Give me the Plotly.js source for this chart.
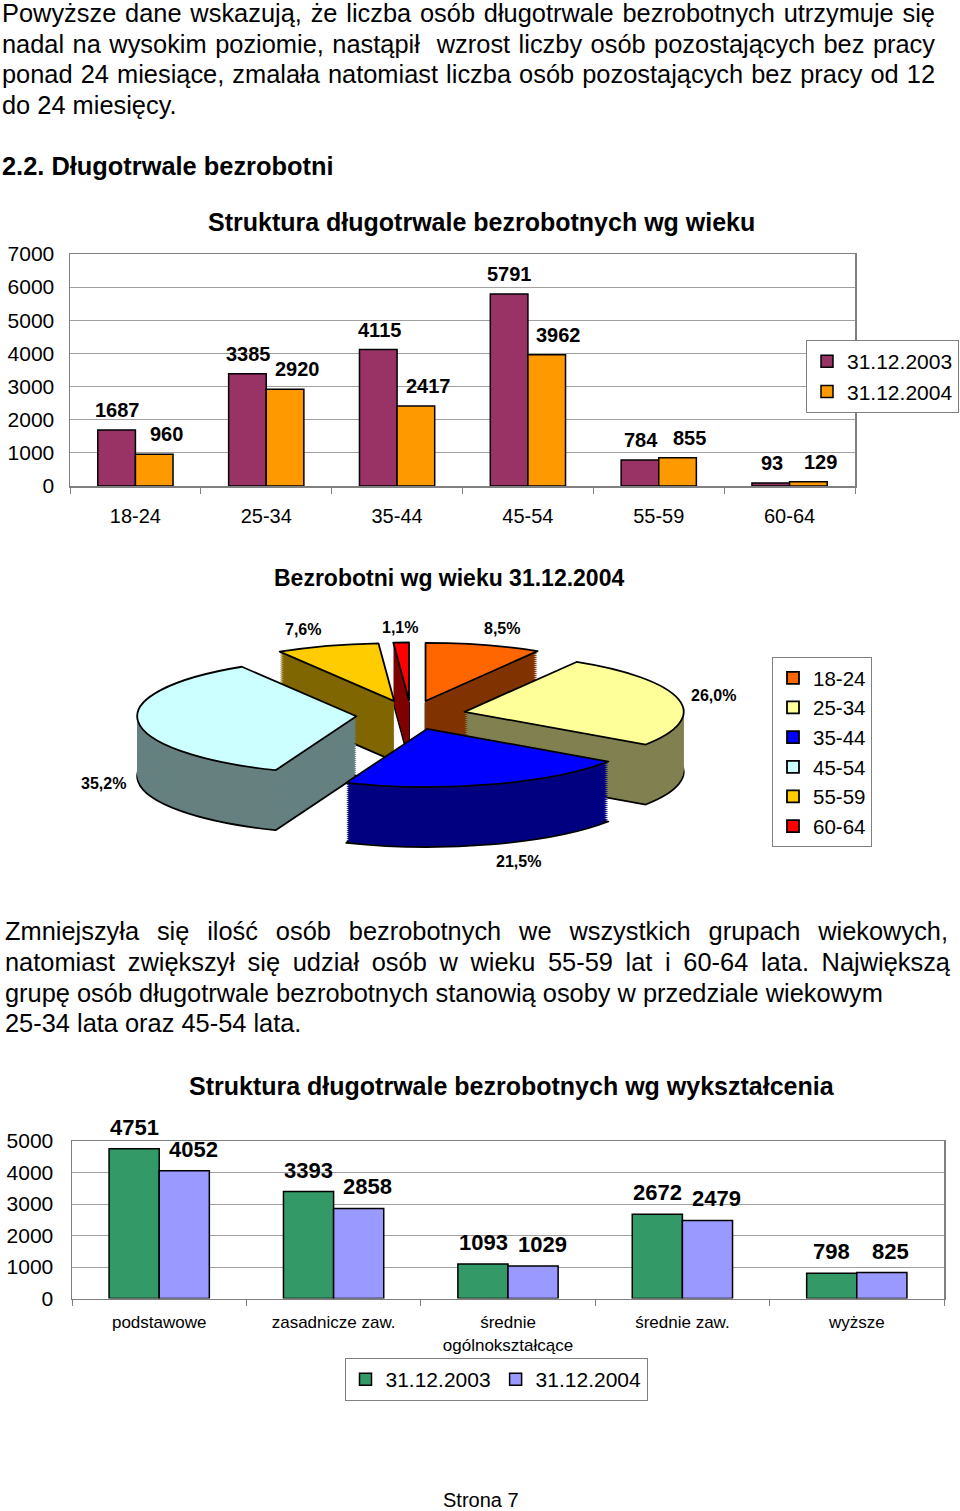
<!DOCTYPE html>
<html>
<head>
<meta charset="utf-8">
<script src="https://cdn.plot.ly/plotly-3.0.1.min.js"></script>
<style>
  body { margin: 0; background: #fff; }
  #page { position: relative; width: 960px; height: 1511px; overflow: hidden;
          font-family: "Liberation Sans", Arial, sans-serif; color: #000; background: #fff; }
  #chart { position: absolute; left: 0; top: 0; width: 960px; height: 1511px; }
  .ln { position: absolute; font-size: 25.4px; line-height: 30px; white-space: pre; }
  .b { font-weight: bold; }
</style>
</head>
<body>
<div id="page">
  <div id="chart"></div>
</div>
<script>
// ---------------- DATA ----------------
const ageCats = ["18-24", "25-34", "35-44", "45-54", "55-59", "60-64"];
const age2003 = [1687, 3385, 4115, 5791, 784, 93];
const age2004 = [960, 2920, 2417, 3962, 855, 129];
const seriesNames = ["31.12.2003", "31.12.2004"];
const ageTicks = [0, 1000, 2000, 3000, 4000, 5000, 6000, 7000];

const pieLabels = ageCats;
const pieValues = age2004;

const eduCats = ["podstawowe", "zasadnicze zaw.", "średnie ogólnokształcące", "średnie zaw.", "wyższe"];
const eduTickLabels = ["podstawowe", "zasadnicze zaw.", "średnie<br>ogólnokształcące", "średnie zaw.", "wyższe"];
const edu2003 = [4751, 3393, 1093, 2672, 798];
const edu2004 = [4052, 2858, 1029, 2479, 825];
const eduTicks = [0, 1000, 2000, 3000, 4000, 5000];

// ---------------- PAGE TEXT ----------------
const FONT = '"Liberation Sans", Arial, sans-serif';
const textLines = [
  {t: "Powyższe dane wskazują, że liczba osób długotrwale bezrobotnych utrzymuje się", left: 2, top: -2, right: 935},
  {t: "nadal na wysokim poziomie, nastąpił  wzrost liczby osób pozostających bez pracy", left: 2, top: 28.6, right: 935},
  {t: "ponad 24 miesiące, zmalała natomiast liczba osób pozostających bez pracy od 12", left: 2, top: 59.3, right: 935},
  {t: "do 24 miesięcy.", left: 2, top: 89.8},
  {t: "2.2. Długotrwale bezrobotni", left: 2, top: 151.3, bold: true},
  {t: "Zmniejszyła się ilość osób bezrobotnych we wszystkich grupach wiekowych,", left: 5, top: 916.3, right: 948},
  {t: "natomiast zwiększył się udział osób w wieku 55-59 lat i 60-64 lata. Największą", left: 5, top: 947.3, right: 950},
  {t: "grupę osób długotrwale bezrobotnych stanowią osoby w przedziale wiekowym", left: 5, top: 977.8},
  {t: "25-34 lata oraz 45-54 lata.", left: 5, top: 1008.3}
];
const page = document.getElementById('page');
textLines.forEach(function (L) {
  const d = document.createElement('div');
  d.className = 'ln' + (L.bold ? ' b' : '');
  d.textContent = L.t;
  d.style.left = L.left + 'px';
  d.style.top = L.top + 'px';
  page.appendChild(d);
  if (L.right) {
    const natural = d.getBoundingClientRect().width;
    const spaces = (L.t.match(/ /g) || []).length;
    const extra = (L.right - L.left) - natural;
    d.style.wordSpacing = (extra / spaces) + 'px';
  }
});

// ---------------- CHART ----------------
const W = 960, H = 1511;
const px = v => v / W;
const py = v => 1 - v / H;

const C2003 = '#993366', C2004 = '#FF9900';
const E2003 = '#339966', E2004 = '#9999FF';
const pieTop = ['#FF6600', '#FFFF99', '#0000FF', '#CCFFFF', '#FFCC00', '#FF0000'];
const pieSide = ['#803300', '#808050', '#000080', '#668080', '#806600', '#800000'];

const traces = [];
traces.push({type: 'bar', x: ageCats, y: age2003, name: seriesNames[0], xaxis: 'x', yaxis: 'y', legend: 'legend',
  marker: {color: C2003, line: {color: '#000', width: 1.5}}, hoverinfo: 'skip'});
traces.push({type: 'bar', x: ageCats, y: age2004, name: seriesNames[1], xaxis: 'x', yaxis: 'y', legend: 'legend',
  marker: {color: C2004, line: {color: '#000', width: 1.5}}, hoverinfo: 'skip'});
traces.push({type: 'bar', x: eduCats, y: edu2003, name: seriesNames[0], xaxis: 'x2', yaxis: 'y2', legend: 'legend2',
  marker: {color: E2003, line: {color: '#000', width: 1.5}}, hoverinfo: 'skip'});
traces.push({type: 'bar', x: eduCats, y: edu2004, name: seriesNames[1], xaxis: 'x2', yaxis: 'y2', legend: 'legend2',
  marker: {color: E2004, line: {color: '#000', width: 1.5}}, hoverinfo: 'skip'});

// 3D-looking exploded pie: stacked pie layers, later squashed vertically
const PIE_CX = 411, PIE_CY = 715, PIE_HALF = 274;
const SQ = 58 / 219;       // vertical squash (ellipse ratio)
const DEPTH = 60;          // screen px
const NL = 30;
for (let k = 0; k <= NL; k++) {
  const off = DEPTH * (NL - k) / NL;
  const cyPre = PIE_CY + off / SQ;
  const isTop = (k === NL);
  traces.push({
    type: 'pie', labels: pieLabels, values: pieValues, sort: false, direction: 'clockwise', rotation: 0,
    pull: 0.25, textinfo: 'none', hoverinfo: 'skip',
    domain: {x: [px(PIE_CX - PIE_HALF), px(PIE_CX + PIE_HALF)], y: [py(cyPre + PIE_HALF), py(cyPre - PIE_HALF)]},
    marker: {colors: isTop ? pieTop : pieSide, line: {color: '#000', width: (isTop || k === 0) ? 1.8 : 0}},
    showlegend: isTop, legend: 'legend3', name: 'pie' + k
  });
}

const annotations = [];
function ann(x, y, text, size, bold, extra) {
  const a = Object.assign({xref: 'paper', yref: 'paper', x: px(x), y: py(y), text: text, showarrow: false,
    xanchor: 'center', yanchor: 'middle', font: {size: size, weight: bold ? 700 : 400, family: FONT, color: '#000'}}, extra || {});
  annotations.push(a);
}
ann(481.5, 222, 'Struktura długotrwale bezrobotnych wg wieku', 25, true);
ann(449, 578, 'Bezrobotni wg wieku 31.12.2004', 23, true);
ann(512, 1086, 'Struktura długotrwale bezrobotnych wg wykształcenia', 25, true);
ann(481, 1500, 'Strona 7', 20, false);

// bar value labels
function barLabels(cats, vals, xa, ya, xshift, yshift, size) {
  cats.forEach(function (c, i) {
    annotations.push({xref: xa, yref: ya, x: c, y: vals[i], text: String(vals[i]), showarrow: false,
      xanchor: 'center', yanchor: 'bottom', xshift: xshift, yshift: yshift,
      font: {size: size, weight: 700, family: FONT, color: '#000'}});
  });
}
barLabels(ageCats, age2003, 'x', 'y', -18, 7, 20);
barLabels(ageCats, age2004, 'x', 'y', 31, 7, 20);
barLabels(eduCats, edu2003, 'x2', 'y2', -25, 7, 22);
barLabels(eduCats, edu2004, 'x2', 'y2', 34, 7, 22);

// pie percentage labels
const pieTotal = pieValues.reduce((s, v) => s + v, 0);
const pieLabelPos = [[502, 629], [713, 695], [518, 861], [103, 783], [303, 630], [400, 627]];
pieValues.forEach(function (v, i) {
  const pct = (v / pieTotal * 100).toFixed(1).replace('.', ',') + '%';
  ann(pieLabelPos[i][0], pieLabelPos[i][1], pct, 16, true);
});

const axCommonX = {type: 'category', tickson: 'boundaries', ticks: 'outside', ticklen: 6, tickcolor: '#808080',
  showline: true, linecolor: '#808080', linewidth: 1.5, mirror: true, showgrid: false, fixedrange: true};
const axCommonY = {showgrid: true, gridcolor: '#a0a0a0', gridwidth: 1, showline: true, linecolor: '#808080', linewidth: 1.5,
  mirror: true, zeroline: false, ticks: '', tickmode: 'array', fixedrange: true};

const layout = {
  width: W, height: H, margin: {l: 0, r: 0, t: 0, b: 0},
  paper_bgcolor: 'rgba(0,0,0,0)', plot_bgcolor: '#fff',
  font: {family: FONT, size: 20, color: '#000'},
  barmode: 'group', bargap: 0.425, bargroupgap: 0,
  xaxis: Object.assign({}, axCommonX, {domain: [px(70), px(855)], anchor: 'y', tickfont: {size: 20}, ticklabelstandoff: 11}),
  yaxis: Object.assign({}, axCommonY, {domain: [py(486), py(254)], anchor: 'x', range: [0, 7000], tickvals: ageTicks,
    tickfont: {size: 21}, ticklabelstandoff: 10}),
  xaxis2: Object.assign({}, axCommonX, {domain: [px(72), px(944)], anchor: 'y2', tickmode: 'array', tickvals: eduCats,
    ticktext: eduTickLabels, tickfont: {size: 17}, ticklabelstandoff: 8}),
  yaxis2: Object.assign({}, axCommonY, {domain: [py(1298.5), py(1141)], anchor: 'x2', range: [0, 5000], tickvals: eduTicks,
    tickfont: {size: 21}, ticklabelstandoff: 13}),
  legend: {x: px(806), xanchor: 'left', y: py(340), yanchor: 'top', bgcolor: '#fff', bordercolor: '#808080', borderwidth: 1,
    font: {size: 21}, traceorder: 'normal'},
  legend2: {orientation: 'h', x: px(496), xanchor: 'center', y: py(1358), yanchor: 'top', bgcolor: '#fff',
    bordercolor: '#808080', borderwidth: 1, font: {size: 21}, traceorder: 'normal'},
  legend3: {x: px(772), xanchor: 'left', y: py(657), yanchor: 'top', bgcolor: '#fff', bordercolor: '#808080', borderwidth: 1,
    font: {size: 20.5}, traceorder: 'normal'},
  annotations: annotations,
  showlegend: true
};

const gd = document.getElementById('chart');
function fixPie() {
  const layer = gd.querySelector('.pielayer');
  if (!layer) return;
  layer.setAttribute('transform', 'translate(0,' + PIE_CY + ') scale(1,' + SQ + ') translate(0,' + (-PIE_CY) + ')');
  layer.querySelectorAll('path').forEach(function (p) { p.style.vectorEffect = 'non-scaling-stroke'; });
}
Plotly.newPlot(gd, traces, layout, {displayModeBar: false, staticPlot: true, responsive: false}).then(function () {
  fixPie();
  gd.on('plotly_afterplot', fixPie);
});
</script>
</body>
</html>
